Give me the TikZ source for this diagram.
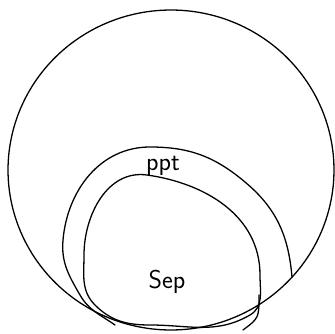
\documentclass[tikz,border=0pt]{standalone}
\usepackage{tikz}
\usetikzlibrary{positioning}
\tikzset{
  sketchln/.style={line width=1.1pt, line cap=round, line join=round, black},
  setlabel/.style={font=\fontsize{22}{22}\selectfont\sffamily, inner sep=0pt},
}
\begin{document}
\begin{tikzpicture}[x=0.03cm, y=-0.03cm]
    \useasboundingbox (0,0) rectangle (335,333);
    % outer set
    \draw[sketchln, domain=0:360, samples=120, smooth]
      plot ({171+163*cos(\x)}, {170+160*sin(\x)});
    % ppt
    \draw[sketchln] (292,277) to[out=95, in=320] (245,182)
      to[out=140, in=0] (150,147) to[out=180, in=85] (63,240)
      to[out=265, in=120] (80,295) to[out=300, in=145] (115,325);
    % Sep
    \draw[sketchln] (147,175) to[out=-8, in=90] (260,275)
      to[out=270, in=30] (250,315) to[out=210, in=0] (150,325)
      to[out=180, in=315] (95,305) to[out=135, in=270] (84,255)
      to[out=90, in=172] cycle;
    \draw[sketchln] (259,295) .. controls (259,318) .. (243,330);
    \node[setlabel] (ppt) at (163,166) {ppt};
    \node[setlabel] (sep) at (167,282) {Sep};
\end{tikzpicture}
\end{document}
